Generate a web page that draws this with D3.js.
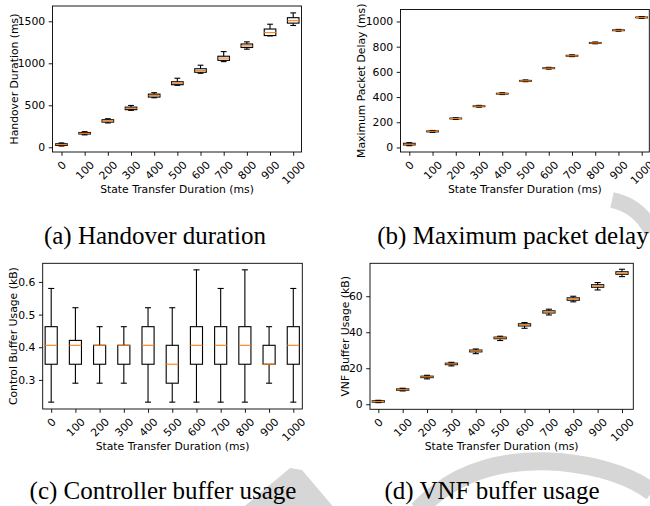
<!DOCTYPE html>
<html>
<head>
<meta charset="utf-8">
<script src="https://cdn.jsdelivr.net/npm/d3@7"></script>
<style>
  body { margin: 0; background: #fff; }
  svg text { font-family: "DejaVu Sans", sans-serif; fill: #000; }
  .caption { font-family: "Liberation Serif", "Times New Roman", serif; }
</style>
</head>
<body>
<svg id="chart" width="650" height="506"></svg>
<script>
// x categories, shared by all four panels
const categories = ['0', '100', '200', '300', '400', '500', '600', '700', '800', '900', '1000'];

// each entry: [lower whisker, q1, median, q3, upper whisker]
const handoverStats = [
    [15, 22, 32, 42, 52],
    [148, 158, 167, 176, 186],
    [290, 300, 314, 328, 340],
    [440, 448, 464, 478, 498],
    [590, 598, 615, 633, 650],
    [738, 745, 762, 780, 822],
    [881, 893, 913, 935, 977],
    [1020, 1035, 1062, 1084, 1139],
    [1168, 1188, 1207, 1230, 1255],
    [1326, 1330, 1365, 1408, 1465],
    [1450, 1478, 1507, 1543, 1600]
];

const delayStats = [
    [14, 20, 26, 33, 38],
    [120, 124, 128, 131, 135],
    [223, 227, 230, 233, 236],
    [320, 324, 327, 330, 334],
    [420, 424, 427, 430, 434],
    [522, 526, 529, 532, 536],
    [622, 626, 629, 632, 636],
    [721, 725, 728, 731, 735],
    [823, 827, 830, 833, 837],
    [923, 927, 930, 933, 937],
    [1025, 1029, 1032, 1035, 1039]
];

const ctrlBufferStats = [
    [0.232, 0.348, 0.406, 0.463, 0.580],
    [0.290, 0.348, 0.406, 0.421, 0.521],
    [0.290, 0.348, 0.406, 0.406, 0.463],
    [0.290, 0.348, 0.406, 0.406, 0.463],
    [0.232, 0.348, 0.406, 0.463, 0.521],
    [0.232, 0.290, 0.348, 0.406, 0.521],
    [0.232, 0.348, 0.406, 0.463, 0.637],
    [0.232, 0.348, 0.406, 0.463, 0.580],
    [0.232, 0.348, 0.406, 0.463, 0.637],
    [0.290, 0.348, 0.348, 0.406, 0.463],
    [0.232, 0.348, 0.406, 0.463, 0.580]
];

const vnfBufferStats = [
    [0.9, 1.2, 1.5, 1.9, 2.2],
    [7.4, 7.8, 8.1, 8.5, 8.9],
    [14.1, 14.8, 15.2, 15.6, 16.1],
    [21.3, 22.0, 22.4, 22.8, 23.3],
    [28.1, 29.1, 29.6, 30.1, 30.7],
    [35.4, 36.4, 36.9, 37.3, 37.8],
    [42.2, 43.5, 44.1, 44.7, 45.4],
    [49.6, 50.7, 51.3, 51.9, 52.8],
    [56.9, 57.8, 58.5, 59.1, 60.0],
    [63.5, 65.0, 65.7, 66.4, 67.6],
    [70.9, 72.2, 72.8, 73.6, 75.0]
];

const handoverTicks = [0, 500, 1000, 1500];
const delayTicks = [0, 200, 400, 600, 800, 1000];
const ctrlBufferTicks = [0.3, 0.4, 0.5, 0.6];
const vnfBufferTicks = [0, 20, 40, 60];

const xLabel = 'State Transfer Duration (ms)';

const FONT = 10.8;
const TICK = 3.8;

const svg = d3.select('#chart');

// faint page watermark fragments behind the figure
let wm = svg.append('g').attr('fill', 'none').attr('stroke', '#d6d6d6');
wm.append('path')
    .attr('d', 'M612,200 Q640,206 652,232')
    .attr('stroke-width', 16);
wm.append('path')
    .attr('d', 'M240,510 L290,468 L302,470 L336,510 Z')
    .attr('fill', '#d6d6d6').attr('stroke', 'none');
wm.append('path')
    .attr('d', 'M418,510 Q470,455 560,462 Q620,468 652,492')
    .attr('stroke-width', 18);

// layout of each subplot (pixel frame + y range)
const panels = [
    { stats: handoverStats, ticks: handoverTicks, fmt: d3.format('d'), yDomain: [-56, 1682],
      left: 52.5, right: 301.5, top: 6, bottom: 152, padL: 9, padR: 8.3,
      yLabel: 'Handover Duration (ms)', yLabelX: 14, xLabelY: 189,
      caption: '(a) Handover duration', capX: 155, capY: 244 },
    { stats: delayStats, ticks: delayTicks, fmt: d3.format('d'), yDomain: [-36, 1095],
      left: 400.5, right: 649.3, top: 9.5, bottom: 152, padL: 8.8, padR: 7.6,
      yLabel: 'Maximum Packet Delay (ms)', yLabelX: 361.5, xLabelY: 189,
      caption: '(b) Maximum packet delay', capX: 513, capY: 244 },
    { stats: ctrlBufferStats, ticks: ctrlBufferTicks, fmt: d3.format('.1f'), yDomain: [0.211, 0.657],
      left: 42.7, right: 302.3, top: 263.3, bottom: 409, padL: 8.5, padR: 9,
      yLabel: 'Control Buffer Usage (kB)', yLabelX: 13.5, xLabelY: 446,
      caption: '(c) Controller buffer usage', capX: 163, capY: 499 },
    { stats: vnfBufferStats, ticks: vnfBufferTicks, fmt: d3.format('d'), yDomain: [-2.8, 78.3],
      left: 370, right: 633.3, top: 263.3, bottom: 409.3, padL: 8.3, padR: 11.3,
      yLabel: 'VNF Buffer Usage (kB)', yLabelX: 345, xLabelY: 446,
      caption: '(d) VNF buffer usage', capX: 492, capY: 499 }
];

panels.forEach(drawPanel);

function drawPanel(p) {
    let x = d3.scalePoint()
        .domain(categories)
        .range([p.left + p.padL, p.right - p.padR]);
    let y = d3.scaleLinear()
        .domain(p.yDomain)
        .range([p.bottom, p.top]);

    let g = svg.append('g');
    let bw = x.step() * 0.5;

    // white plot background over the watermark
    g.append('rect')
        .attr('x', p.left).attr('y', p.top)
        .attr('width', p.right - p.left).attr('height', p.bottom - p.top)
        .attr('fill', '#fff');

    let boxes = g.selectAll('g.box')
        .data(p.stats)
        .join('g')
        .attr('class', 'box')
        .attr('transform', (d, i) => 'translate(' + x(categories[i]) + ',0)');

    // whiskers
    boxes.append('line')
        .attr('x1', 0).attr('x2', 0)
        .attr('y1', d => y(d[0])).attr('y2', d => y(d[1]))
        .attr('stroke', '#000').attr('stroke-width', 1.1);
    boxes.append('line')
        .attr('x1', 0).attr('x2', 0)
        .attr('y1', d => y(d[3])).attr('y2', d => y(d[4]))
        .attr('stroke', '#000').attr('stroke-width', 1.1);
    // caps
    boxes.selectAll('line.cap')
        .data(d => [d[0], d[4]])
        .join('line')
        .attr('class', 'cap')
        .attr('x1', -bw / 4).attr('x2', bw / 4)
        .attr('y1', v => y(v)).attr('y2', v => y(v))
        .attr('stroke', '#000').attr('stroke-width', 1.1);
    // box
    boxes.append('rect')
        .attr('x', -bw / 2)
        .attr('width', bw)
        .attr('y', d => y(d[3]))
        .attr('height', d => Math.max(0.01, y(d[1]) - y(d[3])))
        .attr('fill', 'none')
        .attr('stroke', '#000').attr('stroke-width', 1.1);
    // median
    boxes.append('line')
        .attr('x1', -bw / 2).attr('x2', bw / 2)
        .attr('y1', d => y(d[2])).attr('y2', d => y(d[2]))
        .attr('stroke', '#ff7f0e').attr('stroke-width', 1.1);

    // y axis
    let ya = g.append('g')
        .attr('transform', 'translate(' + p.left + ',0)')
        .call(d3.axisLeft(y).tickValues(p.ticks).tickFormat(p.fmt).tickSize(TICK).tickPadding(3.5));
    ya.select('.domain').remove();
    ya.selectAll('line').attr('stroke', '#000').attr('stroke-width', 0.9);
    ya.selectAll('text').style('font-size', FONT + 'px');

    // x axis, rotated labels
    let xa = g.append('g')
        .attr('transform', 'translate(0,' + p.bottom + ')')
        .call(d3.axisBottom(x).tickSize(TICK).tickPadding(3.5));
    xa.select('.domain').remove();
    xa.selectAll('line').attr('stroke', '#000').attr('stroke-width', 0.9);
    xa.selectAll('text')
        .style('font-size', FONT + 'px')
        .attr('y', null).attr('dy', null)
        .attr('text-anchor', 'middle')
        .attr('dominant-baseline', 'central')
        .attr('transform', function() {
            let w = this.getComputedTextLength();
            let off = TICK + 3.5 + (w + FONT) / (2 * Math.SQRT2);
            return 'translate(0,' + off + ') rotate(-45)';
        });

    // frame
    g.append('rect')
        .attr('x', p.left).attr('y', p.top)
        .attr('width', p.right - p.left).attr('height', p.bottom - p.top)
        .attr('fill', 'none')
        .attr('stroke', '#000').attr('stroke-width', 0.9);

    // axis titles
    g.append('text')
        .attr('transform', 'translate(' + p.yLabelX + ',' + (p.top + p.bottom) / 2 + ') rotate(-90)')
        .attr('text-anchor', 'middle')
        .attr('dominant-baseline', 'central')
        .style('font-size', FONT + 'px')
        .text(p.yLabel);
    g.append('text')
        .attr('x', (p.left + p.right) / 2)
        .attr('y', p.xLabelY)
        .attr('text-anchor', 'middle')
        .attr('dominant-baseline', 'central')
        .style('font-size', FONT + 'px')
        .text(xLabel);

    // subfigure caption
    g.append('text')
        .attr('class', 'caption')
        .attr('x', p.capX)
        .attr('y', p.capY)
        .attr('text-anchor', 'middle')
        .style('font-size', '25px')
        .text(p.caption);
}
</script>
</body>
</html>
